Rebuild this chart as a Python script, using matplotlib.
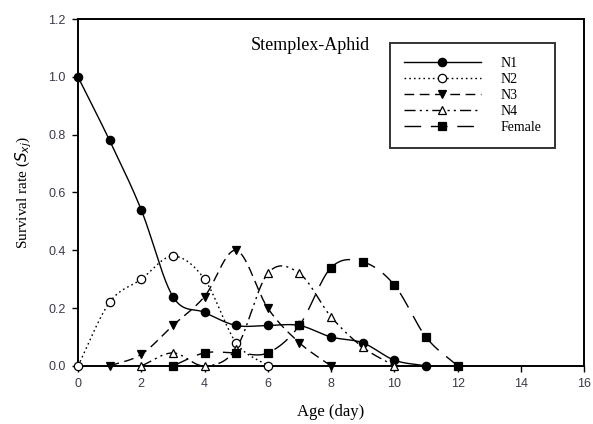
import numpy as np
import matplotlib
matplotlib.use("Agg")
import matplotlib.pyplot as plt
from matplotlib.lines import Line2D

# ---- data ----
days_n1 = [0, 1, 2, 3, 4, 5, 6, 7, 8, 9, 10, 11]
n1 = [1.0, 0.78, 0.54, 0.24, 0.185, 0.14, 0.14, 0.14, 0.10, 0.08, 0.02, 0.0]
days_n2 = [0, 1, 2, 3, 4, 5, 6]
n2 = [0.0, 0.22, 0.30, 0.38, 0.30, 0.08, 0.0]
days_n3 = [1, 2, 3, 4, 5, 6, 7, 8]
n3 = [0.0, 0.04, 0.14, 0.24, 0.40, 0.20, 0.08, 0.0]
days_n4 = [2, 3, 4, 5, 6, 7, 8, 9, 10]
n4 = [0.0, 0.045, 0.0, 0.06, 0.32, 0.32, 0.17, 0.065, 0.0]
days_f = [3, 4, 5, 6, 7, 8, 9, 10, 11, 12]
female = [0.0, 0.045, 0.045, 0.045, 0.14, 0.34, 0.36, 0.28, 0.10, 0.0]

labels = ["N1", "N2", "N3", "N4", "Female"]
xticks = [0, 2, 4, 6, 8, 10, 12, 14, 16]
yticks = [0.0, 0.2, 0.4, 0.6, 0.8, 1.0, 1.2]


def catmull_rom(x, y, per=40):
    x = np.asarray(x, float)
    y = np.asarray(y, float)
    m = len(x)
    t = np.zeros(m)
    for i in range(m):
        if i == 0:
            t[i] = (y[1] - y[0]) / (x[1] - x[0])
        elif i == m - 1:
            t[i] = (y[-1] - y[-2]) / (x[-1] - x[-2])
        else:
            t[i] = (y[i + 1] - y[i - 1]) / (x[i + 1] - x[i - 1])
    xs_all, ys_all = [], []
    for i in range(m - 1):
        h = x[i + 1] - x[i]
        s = np.linspace(0, 1, per, endpoint=(i == m - 2))
        h00 = 2 * s ** 3 - 3 * s ** 2 + 1
        h10 = s ** 3 - 2 * s ** 2 + s
        h01 = -2 * s ** 3 + 3 * s ** 2
        h11 = s ** 3 - s ** 2
        xs_all.append(x[i] + s * h)
        ys_all.append(h00 * y[i] + h10 * h * t[i] + h01 * y[i + 1] + h11 * h * t[i + 1])
    return np.concatenate(xs_all), np.concatenate(ys_all)


fig = plt.figure(figsize=(5.93, 4.24), dpi=100)
ax = fig.add_axes([0.1315, 0.137, 0.8535, 0.818])

series = [
    (days_n1, n1, dict(ls='-', marker='o', mfc='black')),
    (days_n2, n2, dict(ls=(0, (1.2, 2.2)), marker='o', mfc='white')),
    (days_n3, n3, dict(ls=(0, (7, 4)), marker='v', mfc='black')),
    (days_n4, n4, dict(ls=(0, (8, 3, 1.5, 3, 1.5, 3)), marker='^', mfc='white')),
    (days_f, female, dict(ls=(0, (12, 7)), marker='s', mfc='black')),
]

handles = []
for (dx, dy, st), lab in zip(series, labels):
    xs, ys = catmull_rom(dx, dy)
    ax.plot(xs, ys, color='black', lw=1.0, ls=st['ls'], clip_on=False, zorder=2)
    ax.plot(dx, dy, ls='none', marker=st['marker'], mfc=st['mfc'], mec='black',
            ms=6, mew=0.9, clip_on=False, zorder=3)
    handles.append(Line2D([0], [0], color='black', lw=1.0, ls=st['ls'],
                          marker=st['marker'], mfc=st['mfc'], mec='black', ms=6, mew=0.9))

ax.set_xlim(0, 16)
ax.set_ylim(0, 1.2)
ax.set_xticks(xticks)
ax.set_yticks(yticks)
ax.set_yticklabels([f"{v:.1f}" for v in yticks])
ax.tick_params(direction='out', length=4, width=1.0, labelsize=9, colors='black',
               labelcolor='#3a3a4a', pad=5)
for lab in ax.get_xticklabels() + ax.get_yticklabels():
    lab.set_family('Liberation Sans')
for sp in ax.spines.values():
    sp.set_linewidth(1.4)

ax.set_xlabel("Age (day)", family='Liberation Serif', fontsize=12, labelpad=10)
ax.set_ylabel(r"Survival rate ($S_{xj}$)", family='Liberation Serif', fontsize=11, labelpad=10)

ax.text(0.459, 0.925, "Stemplex-Aphid", transform=ax.transAxes, family='Liberation Serif',
        fontsize=13, ha='center', va='center')

leg = ax.legend(handles, labels, loc='upper left', bbox_to_anchor=(0.617, 0.931),
                frameon=True, fancybox=False, edgecolor='black', handlelength=5.5,
                handletextpad=1.45, labelspacing=0.22, borderpad=1.0, borderaxespad=0,
                prop={'family': 'Liberation Serif', 'size': 10})
leg.get_frame().set_linewidth(1.4)

fig.savefig("out.png", dpi=100)
